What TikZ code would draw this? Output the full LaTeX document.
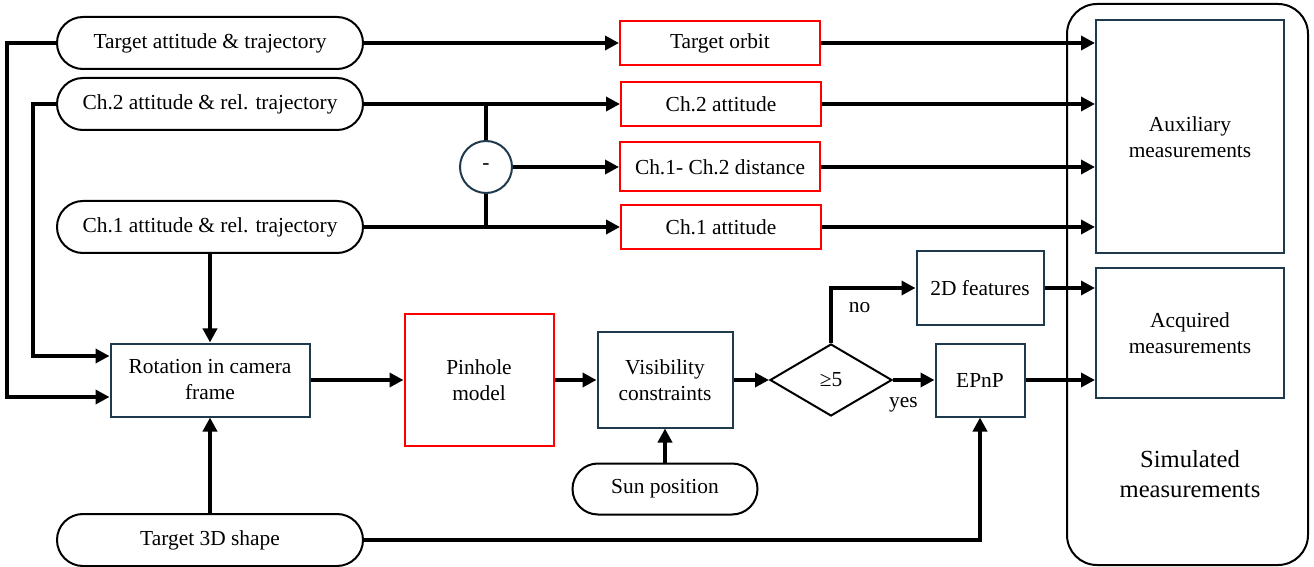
\documentclass[tikz,border=0pt]{standalone}
\usepackage{fontspec}
\setmainfont{Liberation Serif}
\usetikzlibrary{arrows.meta}
\usetikzlibrary{shapes.misc}
\usetikzlibrary{shapes.geometric}
\definecolor{boxline}{HTML}{1F3A4C}

\begin{document}
\begin{tikzpicture}[x=0.5pt,y=-0.5pt,>={Triangle[length=7pt,width=7pt]},
    font=\fontsize{10.7}{13}\selectfont,
    every node/.style={align=center,inner sep=2pt},
    term/.style={draw,line width=1pt,rounded rectangle,minimum width=157pt,minimum height=26pt},
    redbox/.style={draw=red,line width=1pt,minimum width=100pt,minimum height=22pt},
    block/.style={draw=boxline,line width=1pt},
    flow/.style={->,line width=1.8pt}]
    \useasboundingbox (0,0) rectangle (1314,567);
    % inputs
    \node[term] (tat) at (210,43) {Target attitude \& trajectory};
    \node[term] (ch2) at (210,104) {Ch.2 attitude \& rel. trajectory};
    \node[term] (ch1) at (210,227) {Ch.1 attitude \& rel. trajectory};
    \node[term] (t3d) at (210,540) {Target 3D shape};
    \node[term,minimum width=96.5pt,minimum height=25.5pt] (sun) at (665,489) {Sun position};
    % red blocks
    \node[redbox] (torb) at (720,43) {Target orbit};
    \node[redbox] (c2att) at (721,104) {Ch.2 attitude};
    \node[redbox,minimum height=24.5pt] (dist) at (720,167) {Ch.1- Ch.2 distance};
    \node[redbox] (c1att) at (721,227) {Ch.1 attitude};
    \node[draw=red,line width=1pt,minimum width=74.5pt,minimum height=65.5pt] (pin) at (479,380) {Pinhole\\model};
    \node[circle,draw=boxline,line width=1pt,minimum size=26pt,inner sep=0pt] (minus) at (486,167) {-};
    % processing chain
    \node[block,minimum width=99.5pt,minimum height=36.5pt] (rot) at (210,380) {Rotation in camera\\frame};
    \node[block,minimum width=67.5pt,minimum height=47.5pt] (vis) at (665,380) {Visibility\\constraints};
    \node[draw,line width=1pt,diamond,minimum width=61pt,minimum height=36pt,inner sep=0pt] (dec) at (831,380) {≥5};
    \node[block,minimum width=63.5pt,minimum height=37pt] (feat) at (980,288) {2D features};
    \node[block,minimum width=44.5pt,minimum height=36.5pt] (epnp) at (980,380) {EPnP};
    % outputs
    \node[block,minimum width=94pt,minimum height=116.5pt] (aux) at (1190,137) {Auxiliary\\measurements};
    \node[block,minimum width=94pt,minimum height=64.5pt] (acq) at (1190,333) {Acquired\\measurements};
    \node[draw,line width=1pt,rounded corners=15pt,minimum width=120.5pt,minimum height=280.5pt] (sim) at (1187.5,284.5) {};
    \node[font=\fontsize{12.3}{15}\selectfont] (simtxt) at (1190,474) {Simulated\\measurements};
    % connectors
    \draw[flow] (tat.west) -- ++(-49,0) |- ([yshift=-8.5pt]rot.west);
    \draw[flow] (ch2.west) -- ++(-23,0) |- ([yshift=12pt]rot.west);
    \draw[flow] (ch1.south) -- (rot.north);
    \draw[flow] (t3d.north) -- (rot.south);
    \draw[flow] (t3d.east) -| (epnp.south);
    \draw[flow] (tat.east) -- (torb.west);
    \draw[flow] (ch2.east) -- (c2att.west);
    \draw[flow] (ch1.east) -- (c1att.west);
    \draw[flow] (minus.east) -- (dist.west);
    \draw[line width=1.8pt] (minus.north) -- (minus.north |- ch2.east);
    \draw[line width=1.8pt] (minus.south) -- (minus.south |- ch1.east);
    \foreach \n in {torb,c2att,dist,c1att}
        \draw[flow] (\n.east) -- (\n.east -| aux.west);
    \draw[flow] (rot.east) -- (pin.west);
    \draw[flow] (pin.east) -- (vis.west);
    \draw[flow] (sun.north) -- (vis.south);
    \draw[flow] (vis.east) -- (dec.west);
    \draw[flow] (dec.north) |- node[pos=0.32,right=6pt] {no} (feat.west);
    \draw[flow] (dec.east) -- node[pos=0.25,below=6pt] {yes} (epnp.west);
    \draw[flow] (feat.east) -- (feat.east -| acq.west);
    \draw[flow] (epnp.east) -- (epnp.east -| acq.west);
\end{tikzpicture}
\end{document}
